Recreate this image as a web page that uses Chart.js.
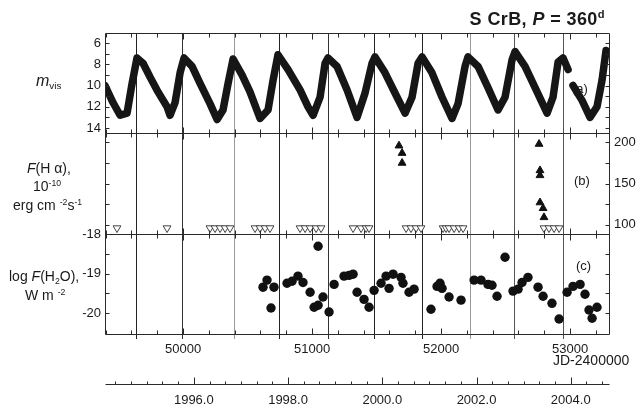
<!DOCTYPE html>
<html lang="en">
<head>
<meta charset="UTF-8">
<title>S CrB: visual light curve, H-alpha and H2O flux</title>
<script src="https://cdn.jsdelivr.net/npm/chart.js@4"></script>
<style>
  * { margin: 0; padding: 0; box-sizing: border-box; }
  body { background: #fff; }
  #wrap { position: relative; width: 636px; height: 407px; font-family: 'Liberation Sans', Arial, sans-serif; color: #1a1a1a; }
  canvas { position: absolute; left: 0; top: 0; }
  .lb { position: absolute; white-space: nowrap; line-height: 1; }
  .lb sup, .lb sub { font-size: 62%; line-height: 0; }
  .lb sup { vertical-align: 0.6em; }
  .lb sub { vertical-align: -0.3em; }
</style>
</head>
<body>
<div id="wrap">
  <canvas id="chart" width="636" height="407"></canvas>
  <div class="lb" style="right:31px; top:10px; font-size:18px; font-weight:bold; letter-spacing:0.4px;">S CrB, <i>P</i> = 360<sup>d</sup></div>
  <div class="lb" style="left:36px; top:73px; font-size:16px;"><i>m</i><sub>vis</sub></div>
  <div class="lb" style="left:27px; top:161px; font-size:14px;"><i>F</i>(H &alpha;),</div>
  <div class="lb" style="left:33px; top:179px; font-size:14px;">10<sup>-10</sup></div>
  <div class="lb" style="left:13px; top:198px; font-size:14px;">erg cm&nbsp;<sup>-2</sup>s<sup>-1</sup></div>
  <div class="lb" style="left:9px; top:269px; font-size:14px;">log <i>F</i>(H<sub>2</sub>O),</div>
  <div class="lb" style="left:25px; top:288px; font-size:14px;">W m&nbsp;<sup>-2</sup></div>
  <div class="lb" style="left:572px; top:82px; font-size:13px;">(a)</div>
  <div class="lb" style="left:574px; top:174px; font-size:13px;">(b)</div>
  <div class="lb" style="left:576px; top:259px; font-size:13px;">(c)</div>
  <div class="lb" style="left:553px; top:353px; font-size:14px;">JD-2400000</div>
</div>
<script>
// panel (a): visual magnitude, traced along the band
const lcJD = [49395, 49457, 49512, 49566, 49605, 49643, 49690, 49744, 49806, 49876,
  49899, 49938, 49977, 50008, 50070, 50132, 50209, 50264, 50310, 50349,
  50388, 50457, 50519, 50597, 50659, 50698, 50736, 50814, 50907, 50969,
  51008, 51062, 51101, 51124, 51194, 51271, 51349, 51411, 51465, 51488,
  51566, 51643, 51721, 51775, 51822, 51853, 51930, 52008, 52085, 52132,
  52186, 52209, 52287, 52364, 52442, 52496, 52550, 52574, 52651, 52729,
  52822, 52868, 52907, 52946, 52985, 53004, 53023, 53093, 53155, 53209,
  53248, 53279];
const lcMag = [10.0, 11.6, 12.8, 12.6, 9.8, 7.4, 7.9, 9.2, 10.6, 12.0,
  12.8, 11.6, 8.8, 7.4, 8.2, 9.8, 11.7, 13.2, 12.3, 9.8,
  7.5, 9.0, 10.6, 13.1, 12.3, 9.5, 7.1, 8.5, 10.4, 12.0,
  12.8, 11.1, 7.9, 7.4, 8.2, 10.4, 13.0, 10.7, 7.9, 7.3,
  8.8, 10.7, 12.6, 11.1, 7.9, 7.3, 8.8, 11.1, 13.1, 11.7,
  8.2, 7.3, 8.2, 10.2, 12.3, 11.1, 7.6, 6.8, 8.2, 10.2,
  12.6, 11.1, 7.8, 7.4, 8.5, null, 10.0, 11.4, 13.0, 12.0,
  9.5, 6.7];

// panel (b): H-alpha detections and upper limits
const haJD = [51674, 51698, 51698, 52760, 52767, 52767, 52767, 52791, 52798];
const haFlux = [196, 187, 175, 198, 166, 160, 127, 120, 109];
const limJD = [49488, 49876, 50209, 50248, 50287, 50326, 50364, 50558, 50597, 50636,
  50674, 50907, 50946, 50985, 51031, 51070, 51318, 51380, 51419, 51442,
  51729, 51767, 51806, 51845, 52016, 52039, 52062, 52101, 52140, 52171,
  52798, 52837, 52876, 52915];
const limFlux = [96, 96, 96, 96, 96, 96, 96, 96, 96, 96,
  96, 96, 96, 96, 96, 96, 96, 96, 96, 96,
  96, 96, 96, 96, 96, 96, 96, 96, 96, 96,
  96, 96, 96, 96];

// panel (c): log F(H2O)
const h2oJD = [50620, 50651, 50682, 50705, 50806, 50845, 50891, 50930, 50985, 51016,
  51047, 51047, 51085, 51132, 51171, 51248, 51287, 51318, 51349, 51403,
  51442, 51481, 51535, 51574, 51597, 51628, 51690, 51705, 51752, 51791,
  51922, 51969, 51992, 52008, 52062, 52155, 52256, 52310, 52364, 52395,
  52434, 52496, 52558, 52597, 52628, 52674, 52752, 52791, 52860, 52915,
  52977, 53023, 53078, 53116, 53147, 53171, 53209];
const h2oLog = [-19.34, -19.16, -19.87, -19.34, -19.24, -19.19, -19.06, -19.22, -19.47, -19.85,
  -18.30, -19.80, -19.59, -19.97, -19.27, -19.06, -19.04, -19.01, -19.47, -19.65,
  -19.85, -19.42, -19.24, -19.06, -19.37, -19.01, -19.09, -19.24, -19.47, -19.39,
  -19.90, -19.32, -19.24, -19.37, -19.59, -19.67, -19.16, -19.16, -19.27, -19.29,
  -19.57, -18.58, -19.44, -19.39, -19.22, -19.09, -19.34, -19.57, -19.75, -20.15,
  -19.47, -19.32, -19.27, -19.52, -19.92, -20.13, -19.85];

// epochs of the vertical lines (maxima)
const maxJD = [49641, 49998, 50398, 50747, 51127, 51488, 51858, 52225, 52568, 52948];
const maxColors = ['#222', '#333', '#999', '#222', '#333', '#222', '#222', '#999', '#555', '#555'];

// ticks
const magTicks = [6, 8, 10, 12, 14];
const magMinor = [6, 7, 8, 9, 10, 11, 12, 13, 14];
const haTicks = [100, 150, 200];
const haMinor = [100, 125, 150, 175, 200];
const h2oTicks = [-18, -19, -20];
const h2oMinor = [-18.5, -19, -19.5, -20];
const jdTicks = [50000, 51000, 52000, 53000];
const jdMinor = [49400, 49600, 49800, 50000, 50200, 50400, 50600, 50800, 51000, 51200,
  51400, 51600, 51800, 52000, 52200, 52400, 52600, 52800, 53000, 53200];
const yearTicks = [1996, 1998, 2000, 2002, 2004];
const yearMinor = [1994.333, 1994.667, 1995, 1995.333, 1995.667, 1996, 1996.333, 1996.667,
  1997, 1997.333, 1997.667, 1998, 1998.333, 1998.667, 1999, 1999.333, 1999.667,
  2000, 2000.333, 2000.667, 2001, 2001.333, 2001.667, 2002, 2002.333, 2002.667,
  2003, 2003.333, 2003.667, 2004, 2004.333, 2004.667];

const jdMin = 49395, jdMax = 53302;
const yearMin = 1994.115, yearMax = 2004.812;

const pts = (xs, ys) => xs.map((x, i) => ({ x, y: ys[i] }));
const setTicks = vals => s => { s.ticks = vals.map(v => ({ value: v })); };
const fixW = w => s => { s.width = w; };
const fixH = h => s => { s.height = h; };
const px = v => Math.round(v) + 0.5;

function seg(ctx, x1, y1, x2, y2) {
  ctx.beginPath();
  ctx.moveTo(x1, y1);
  ctx.lineTo(x2, y2);
  ctx.stroke();
}

// frame, panel separators and inward ticks
const framePlugin = {
  id: 'frame',
  afterDatasetsDraw(chart) {
    const { ctx, chartArea: a, scales: s } = chart;
    const L = px(a.left), R = px(a.right);
    const rows = [px(a.top), px(s.ya.bottom), px(s.yb.bottom), px(a.bottom)];
    ctx.save();
    ctx.strokeStyle = '#2a2a2a';
    ctx.lineWidth = 1;
    rows.forEach(y => seg(ctx, L, y, R, y));
    seg(ctx, L, rows[0], L, rows[3]);
    seg(ctx, R, rows[0], R, rows[3]);

    jdMinor.forEach(v => {
      const x = px(s.x.getPixelForValue(v));
      const len = jdTicks.includes(v) ? 6 : 4;
      rows.forEach((y, i) => {
        if (i > 0) seg(ctx, x, y, x, y - len);
        if (i < 3) seg(ctx, x, y, x, y + len);
      });
    });

    [[s.ya, magMinor], [s.yb, haMinor], [s.yc, h2oMinor]].forEach(([sc, vals]) => {
      vals.forEach(v => {
        const y = px(sc.getPixelForValue(v));
        seg(ctx, L, y, L + 4, y);
        seg(ctx, R - 4, y, R, y);
      });
    });

    // calendar year axis
    const yy = px(s.xy.top + 10);
    seg(ctx, L, yy, R, yy);
    yearMinor.forEach(v => {
      const x = px(s.xy.getPixelForValue(v));
      seg(ctx, x, yy, x, yy - (yearTicks.includes(v) ? 7 : 3));
    });
    ctx.restore();
  }
};

Chart.defaults.font.family = "'Liberation Sans', Arial, sans-serif";
Chart.defaults.font.size = 13;
Chart.defaults.color = '#1a1a1a';

const noGrid = { display: false, drawTicks: false };
const noBorder = { display: false };

function leftAxis(min, max, ticks, weight, extra) {
  return Object.assign({
    type: 'linear', position: 'left', stack: 'left', stackWeight: 1, weight,
    min, max, grid: noGrid, border: noBorder,
    ticks: { padding: 4, autoSkip: false },
    afterBuildTicks: setTicks(ticks), afterFit: fixW(105)
  }, extra || {});
}

function rightAxis(min, max, ticks, weight, show) {
  return {
    type: 'linear', position: 'right', stack: 'right', stackWeight: 1, weight,
    min, max, grid: noGrid, border: noBorder,
    ticks: { display: show, padding: 5, autoSkip: false },
    afterBuildTicks: setTicks(ticks), afterFit: fixW(27)
  };
}

new Chart(document.getElementById('chart'), {
  type: 'scatter',
  data: {
    datasets: [
      {
        label: 'm_vis',
        data: pts(lcJD, lcMag),
        yAxisID: 'ya',
        showLine: true,
        spanGaps: false,
        borderColor: '#161616',
        borderWidth: 7.5,
        borderCapStyle: 'round',
        borderJoinStyle: 'round',
        pointRadius: 0,
      },
      {
        label: 'F(Ha)',
        data: pts(haJD, haFlux),
        yAxisID: 'yb',
        pointStyle: 'triangle',
        pointRadius: 4.5,
        backgroundColor: '#111',
        borderColor: '#111',
        borderWidth: 1,
      },
      {
        label: 'F(Ha) upper limit',
        data: pts(limJD, limFlux),
        yAxisID: 'yb',
        pointStyle: 'triangle',
        rotation: 180,
        pointRadius: 4.5,
        backgroundColor: '#fff',
        borderColor: '#444',
        borderWidth: 1,
      },
      {
        label: 'log F(H2O)',
        data: pts(h2oJD, h2oLog),
        yAxisID: 'yc',
        pointRadius: 4.7,
        backgroundColor: '#111',
        borderColor: '#111',
        borderWidth: 0,
      },
    ]
  },
  options: {
    responsive: false,
    animation: false,
    devicePixelRatio: 1,
    layout: { padding: { top: 33, left: 0, right: 0, bottom: 0 } },
    plugins: { legend: { display: false }, tooltip: { enabled: false } },
    scales: {
      x: {
        type: 'linear', position: 'bottom', weight: 1, min: jdMin, max: jdMax,
        grid: noGrid, border: noBorder,
        ticks: { padding: 8, autoSkip: false, maxRotation: 0, callback: v => String(v) },
        afterBuildTicks: setTicks(jdTicks), afterFit: fixH(40)
      },
      xl: {
        type: 'linear', position: 'bottom', weight: 0, min: jdMin, max: jdMax,
        border: noBorder,
        grid: { display: true, drawOnChartArea: true, drawTicks: true, tickLength: 5,
          color: ctx => maxColors[ctx.index] || '#333', lineWidth: 1 },
        ticks: { display: false },
        afterBuildTicks: setTicks(maxJD), afterFit: fixH(0)
      },
      xy: {
        type: 'linear', position: 'bottom', weight: 2, min: yearMin, max: yearMax,
        grid: noGrid, border: noBorder,
        ticks: { padding: 19, autoSkip: false, maxRotation: 0, callback: v => v.toFixed(1) },
        afterBuildTicks: setTicks(yearTicks), afterFit: fixH(33)
      },
      ya: leftAxis(5.05, 14.5, magTicks, 3, { reverse: true }),
      yb: leftAxis(89.2, 211, [], 2, { ticks: { display: false } }),
      yc: leftAxis(-20.53, -17.98, h2oTicks, 1),
      yar: rightAxis(5.05, 14.5, [], 1, false),
      ybr: rightAxis(89.2, 211, haTicks, 2, true),
      ycr: rightAxis(-20.53, -17.98, [], 3, false),
    }
  },
  plugins: [framePlugin]
});
</script>
</body>
</html>
